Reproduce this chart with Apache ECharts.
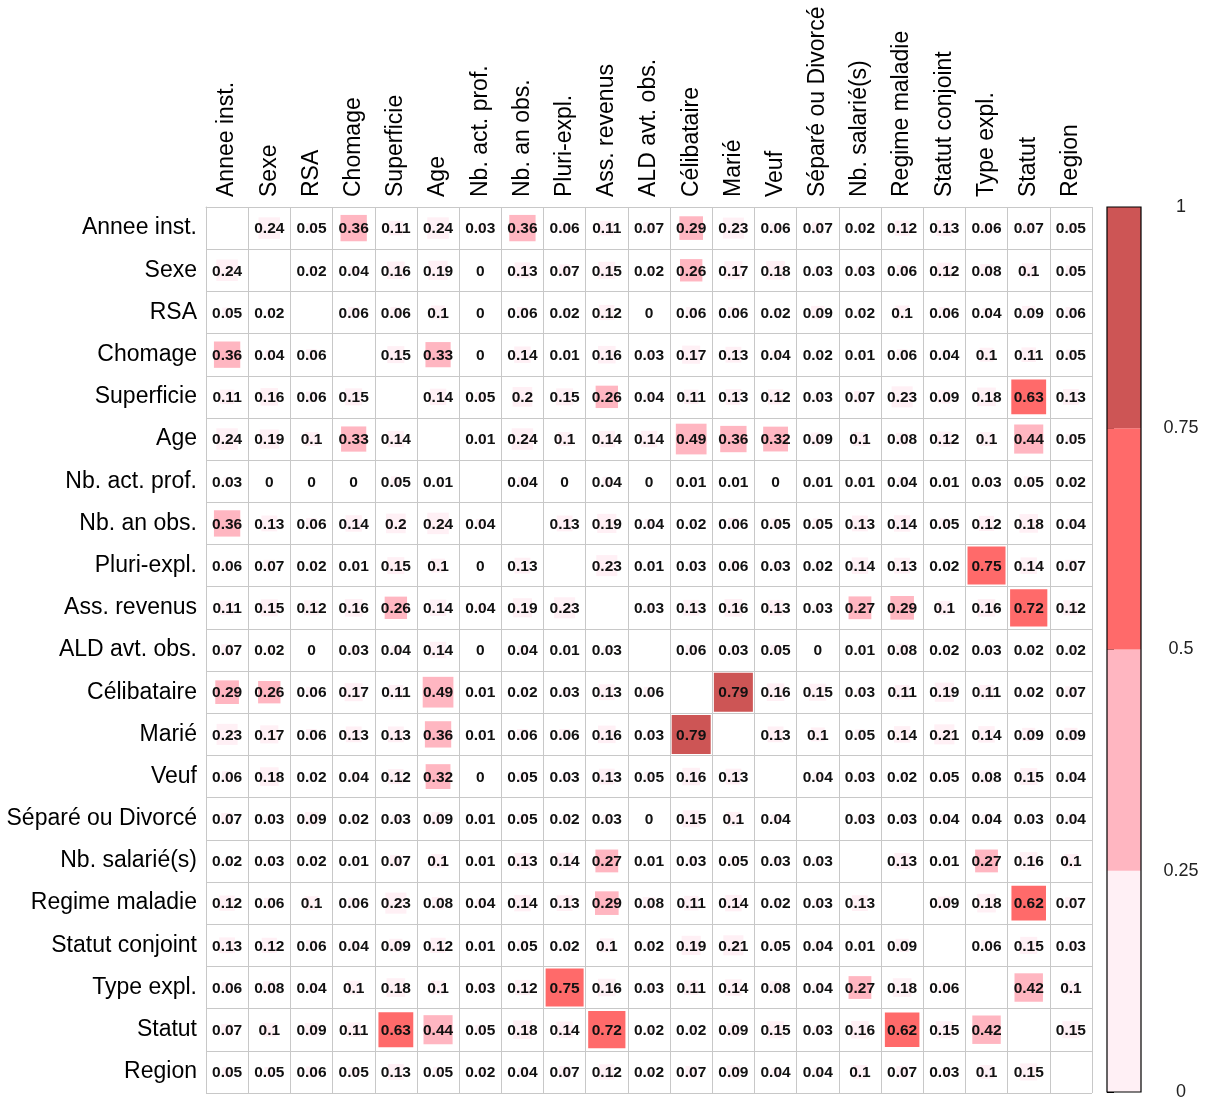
<!DOCTYPE html>
<html>
<head>
<meta charset="utf-8">
<title>Matrice de corrélation</title>
<script src="https://cdn.jsdelivr.net/npm/echarts@6/dist/echarts.min.js"></script>
<style>
  html, body { margin: 0; padding: 0; background: #fff; }
  #chart { width: 1207px; height: 1102px; }
</style>
</head>
<body>
<div id="chart"></div>
<script>
// Variables (row and column order of the matrix)
const variables = [
  'Annee inst.', 'Sexe', 'RSA', 'Chomage', 'Superficie', 'Age', 'Nb. act. prof.',
  'Nb. an obs.', 'Pluri-expl.', 'Ass. revenus', 'ALD avt. obs.', 'Célibataire',
  'Marié', 'Veuf', 'Séparé ou Divorcé', 'Nb. salarié(s)', 'Regime maladie',
  'Statut conjoint', 'Type expl.', 'Statut', 'Region'
];

// Association strength, one row per variable (diagonal left empty)
const rowAnneeInst   = [null, 0.24, 0.05, 0.36, 0.11, 0.24, 0.03, 0.36, 0.06, 0.11, 0.07, 0.29, 0.23, 0.06, 0.07, 0.02, 0.12, 0.13, 0.06, 0.07, 0.05];
const rowSexe        = [0.24, null, 0.02, 0.04, 0.16, 0.19, 0, 0.13, 0.07, 0.15, 0.02, 0.26, 0.17, 0.18, 0.03, 0.03, 0.06, 0.12, 0.08, 0.1, 0.05];
const rowRSA         = [0.05, 0.02, null, 0.06, 0.06, 0.1, 0, 0.06, 0.02, 0.12, 0, 0.06, 0.06, 0.02, 0.09, 0.02, 0.1, 0.06, 0.04, 0.09, 0.06];
const rowChomage     = [0.36, 0.04, 0.06, null, 0.15, 0.33, 0, 0.14, 0.01, 0.16, 0.03, 0.17, 0.13, 0.04, 0.02, 0.01, 0.06, 0.04, 0.1, 0.11, 0.05];
const rowSuperficie  = [0.11, 0.16, 0.06, 0.15, null, 0.14, 0.05, 0.2, 0.15, 0.26, 0.04, 0.11, 0.13, 0.12, 0.03, 0.07, 0.23, 0.09, 0.18, 0.63, 0.13];
const rowAge         = [0.24, 0.19, 0.1, 0.33, 0.14, null, 0.01, 0.24, 0.1, 0.14, 0.14, 0.49, 0.36, 0.32, 0.09, 0.1, 0.08, 0.12, 0.1, 0.44, 0.05];
const rowNbActProf   = [0.03, 0, 0, 0, 0.05, 0.01, null, 0.04, 0, 0.04, 0, 0.01, 0.01, 0, 0.01, 0.01, 0.04, 0.01, 0.03, 0.05, 0.02];
const rowNbAnObs     = [0.36, 0.13, 0.06, 0.14, 0.2, 0.24, 0.04, null, 0.13, 0.19, 0.04, 0.02, 0.06, 0.05, 0.05, 0.13, 0.14, 0.05, 0.12, 0.18, 0.04];
const rowPluriExpl   = [0.06, 0.07, 0.02, 0.01, 0.15, 0.1, 0, 0.13, null, 0.23, 0.01, 0.03, 0.06, 0.03, 0.02, 0.14, 0.13, 0.02, 0.75, 0.14, 0.07];
const rowAssRevenus  = [0.11, 0.15, 0.12, 0.16, 0.26, 0.14, 0.04, 0.19, 0.23, null, 0.03, 0.13, 0.16, 0.13, 0.03, 0.27, 0.29, 0.1, 0.16, 0.72, 0.12];
const rowALD         = [0.07, 0.02, 0, 0.03, 0.04, 0.14, 0, 0.04, 0.01, 0.03, null, 0.06, 0.03, 0.05, 0, 0.01, 0.08, 0.02, 0.03, 0.02, 0.02];
const rowCelibataire = [0.29, 0.26, 0.06, 0.17, 0.11, 0.49, 0.01, 0.02, 0.03, 0.13, 0.06, null, 0.79, 0.16, 0.15, 0.03, 0.11, 0.19, 0.11, 0.02, 0.07];
const rowMarie       = [0.23, 0.17, 0.06, 0.13, 0.13, 0.36, 0.01, 0.06, 0.06, 0.16, 0.03, 0.79, null, 0.13, 0.1, 0.05, 0.14, 0.21, 0.14, 0.09, 0.09];
const rowVeuf        = [0.06, 0.18, 0.02, 0.04, 0.12, 0.32, 0, 0.05, 0.03, 0.13, 0.05, 0.16, 0.13, null, 0.04, 0.03, 0.02, 0.05, 0.08, 0.15, 0.04];
const rowSepare      = [0.07, 0.03, 0.09, 0.02, 0.03, 0.09, 0.01, 0.05, 0.02, 0.03, 0, 0.15, 0.1, 0.04, null, 0.03, 0.03, 0.04, 0.04, 0.03, 0.04];
const rowNbSalaries  = [0.02, 0.03, 0.02, 0.01, 0.07, 0.1, 0.01, 0.13, 0.14, 0.27, 0.01, 0.03, 0.05, 0.03, 0.03, null, 0.13, 0.01, 0.27, 0.16, 0.1];
const rowRegime      = [0.12, 0.06, 0.1, 0.06, 0.23, 0.08, 0.04, 0.14, 0.13, 0.29, 0.08, 0.11, 0.14, 0.02, 0.03, 0.13, null, 0.09, 0.18, 0.62, 0.07];
const rowConjoint    = [0.13, 0.12, 0.06, 0.04, 0.09, 0.12, 0.01, 0.05, 0.02, 0.1, 0.02, 0.19, 0.21, 0.05, 0.04, 0.01, 0.09, null, 0.06, 0.15, 0.03];
const rowTypeExpl    = [0.06, 0.08, 0.04, 0.1, 0.18, 0.1, 0.03, 0.12, 0.75, 0.16, 0.03, 0.11, 0.14, 0.08, 0.04, 0.27, 0.18, 0.06, null, 0.42, 0.1];
const rowStatut      = [0.07, 0.1, 0.09, 0.11, 0.63, 0.44, 0.05, 0.18, 0.14, 0.72, 0.02, 0.02, 0.09, 0.15, 0.03, 0.16, 0.62, 0.15, 0.42, null, 0.15];
const rowRegion      = [0.05, 0.05, 0.06, 0.05, 0.13, 0.05, 0.02, 0.04, 0.07, 0.12, 0.02, 0.07, 0.09, 0.04, 0.04, 0.1, 0.07, 0.03, 0.1, 0.15, null];

const rows = [
  rowAnneeInst, rowSexe, rowRSA, rowChomage, rowSuperficie, rowAge, rowNbActProf,
  rowNbAnObs, rowPluriExpl, rowAssRevenus, rowALD, rowCelibataire, rowMarie,
  rowVeuf, rowSepare, rowNbSalaries, rowRegime, rowConjoint, rowTypeExpl,
  rowStatut, rowRegion
];

// Colour scale: four classes between these breaks
const legendTicks = [0, 0.25, 0.5, 0.75, 1];
const classColors = ['#FFF0F5', '#FFB6C1', '#FF6A6A', '#CD5555'];

function classColor(v) {
  for (let k = 1; k < legendTicks.length; k++) {
    if (v <= legendTicks[k]) return classColors[k - 1];
  }
  return classColors[classColors.length - 1];
}

const FONT = '"Liberation Sans", Arial, Helvetica, sans-serif';

// Cells: [column, row, value]
const cells = [];
rows.forEach((r, i) => r.forEach((v, j) => { if (v !== null) cells.push([j, i, v]); }));

// Legend classes: [lower, upper, classIndex]
const legendBands = classColors.map((c, k) => [legendTicks[k], legendTicks[k + 1], k]);

const chart = echarts.init(document.getElementById('chart'), null, { renderer: 'canvas' });

chart.setOption({
  backgroundColor: '#ffffff',
  animation: false,
  grid: [
    { left: 206, top: 207, width: 886, height: 886, containLabel: false },
    { left: 1107, top: 207, width: 34, height: 885, containLabel: false }
  ],
  xAxis: [
    {
      gridIndex: 0,
      type: 'category',
      data: variables,
      position: 'top',
      boundaryGap: true,
      axisLine: { show: true, lineStyle: { color: '#c8c8c8', width: 1 } },
      axisTick: { show: false },
      splitLine: { show: true, interval: 0, lineStyle: { color: '#c8c8c8', width: 1 } },
      axisLabel: {
        interval: 0, rotate: -90, margin: 10,
        color: '#000', fontSize: 23, fontFamily: FONT
      }
    },
    {
      gridIndex: 1, type: 'value', min: 0, max: 1,
      show: false
    }
  ],
  yAxis: [
    {
      gridIndex: 0,
      type: 'category',
      data: variables,
      inverse: true,
      boundaryGap: true,
      axisLine: { show: true, lineStyle: { color: '#c8c8c8', width: 1 } },
      axisTick: { show: false },
      splitLine: { show: true, interval: 0, lineStyle: { color: '#c8c8c8', width: 1 } },
      axisLabel: {
        interval: 0, margin: 9,
        color: '#000', fontSize: 23, fontFamily: FONT
      }
    },
    {
      gridIndex: 1, type: 'value', min: 0, max: 1, interval: 0.25,
      position: 'right',
      axisLine: { show: false },
      axisTick: { show: true, inside: false, length: 7, lineStyle: { color: '#000', width: 1 } },
      splitLine: { show: false },
      axisLabel: {
        margin: 40, align: 'center',
        color: '#222', fontSize: 18, fontFamily: FONT,
        formatter: v => String(v)
      }
    }
  ],
  series: [
    {
      type: 'custom',
      xAxisIndex: 0, yAxisIndex: 0,
      data: cells,
      encode: { x: 0, y: 1 },
      z: 3,
      renderItem: function (params, api) {
        const xi = api.value(0), yi = api.value(1), v = api.value(2);
        const c = api.coord([xi, yi]);
        const s = api.size([1, 1]);
        const side = Math.min(s[0] - 2, Math.sqrt(Math.abs(v)) * s[0] * 1.04);
        return {
          type: 'group',
          children: [
            {
              type: 'rect',
              shape: { x: c[0] - side / 2, y: c[1] - side / 2, width: side, height: side },
              style: { fill: classColor(v) }
            },
            {
              type: 'text',
              style: {
                text: String(v), x: c[0], y: c[1] + 1,
                align: 'center', verticalAlign: 'middle',
                font: 'bold 15.5px ' + FONT, fill: '#111'
              }
            }
          ]
        };
      }
    },
    {
      type: 'custom',
      xAxisIndex: 1, yAxisIndex: 1,
      data: legendBands,
      encode: { y: [0, 1] },
      z: 3,
      renderItem: function (params, api) {
        const lo = api.value(0), hi = api.value(1), k = api.value(2);
        const p0 = api.coord([0, hi]);
        const p1 = api.coord([1, lo]);
        const band = {
          type: 'rect',
          shape: { x: p0[0], y: p0[1], width: p1[0] - p0[0], height: p1[1] - p0[1] },
          style: { fill: classColors[k] }
        };
        if (params.dataIndex !== legendBands.length - 1) return band;
        // outline of the whole colour bar, drawn with the last band
        const t = api.coord([0, 1]);
        const b = api.coord([1, 0]);
        return {
          type: 'group',
          children: [
            band,
            {
              type: 'rect',
              shape: { x: t[0], y: t[1], width: b[0] - t[0], height: b[1] - t[1] },
              style: { fill: 'none', stroke: '#000', lineWidth: 1.2 },
              z2: 10
            }
          ]
        };
      }
    }
  ]
});
</script>
</body>
</html>
